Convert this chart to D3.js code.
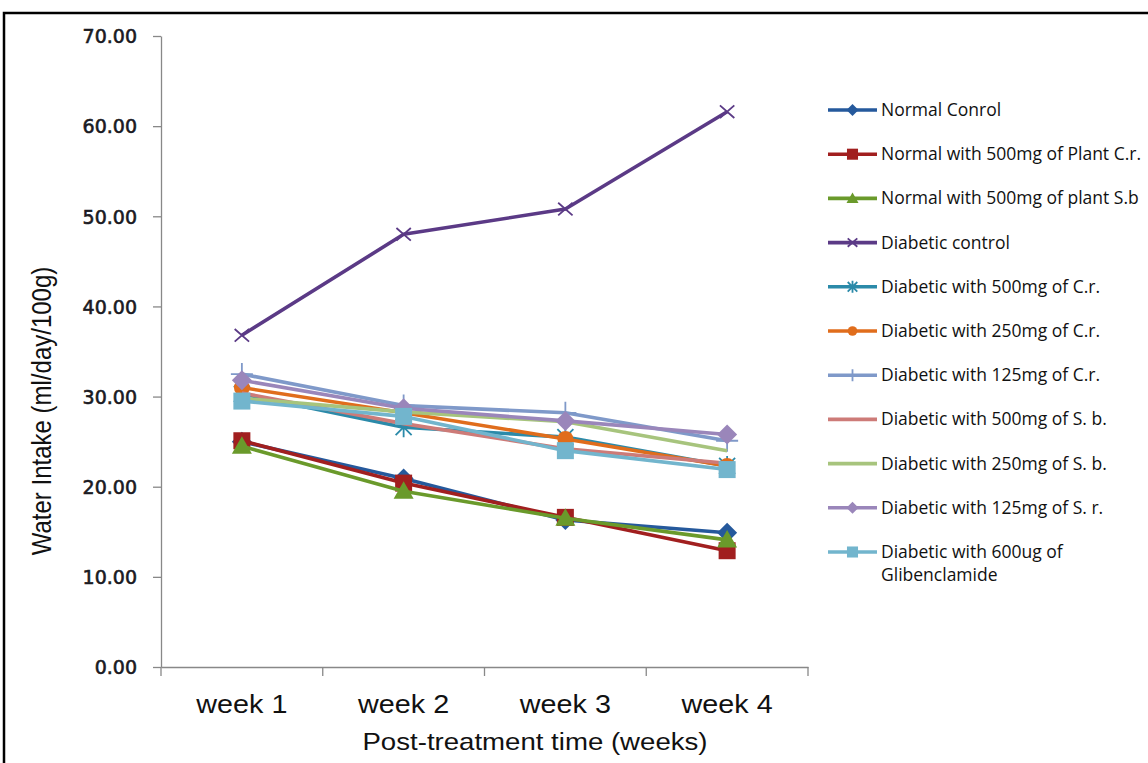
<!DOCTYPE html>
<html><head><meta charset="utf-8">
<script src="https://cdn.jsdelivr.net/npm/d3@7"></script>
<style>body{margin:0;background:#fff;}svg{display:block;}</style>
</head><body>
<script>
const weeks = ["week 1","week 2","week 3","week 4"];
const yTicks = [0,10,20,30,40,50,60,70];
const names = ["Normal Conrol","Normal with 500mg of Plant C.r.","Normal with 500mg of plant S.b","Diabetic control","Diabetic with 500mg of C.r.","Diabetic with 250mg of C.r.","Diabetic with 125mg of C.r.","Diabetic with 500mg of S. b.","Diabetic with 250mg of S. b.","Diabetic with 125mg of S. r.","Diabetic with 600ug of|Glibenclamide"];
const normalControl = [25.0, 20.9, 16.3, 14.9];
const normalCr500 = [25.1, 20.4, 16.6, 12.9];
const normalSb500 = [24.5, 19.5, 16.5, 14.1];
const diabeticControl = [36.8, 48.0, 50.8, 61.6];
const diabCr500 = [30.3, 26.6, 25.5, 22.3];
const diabCr250 = [31.0, 28.2, 25.3, 22.3];
const diabCr125 = [32.5, 29.0, 28.2, 25.1];
const diabSb500 = [30.4, 27.0, 24.2, 22.6];
const diabSb250 = [29.8, 28.3, 27.2, 24.0];
const diabSr125 = [31.8, 28.7, 27.3, 25.8];
const glibenclamide = [29.5, 27.8, 24.0, 21.9];
const seriesValues = [normalControl, normalCr500, normalSb500, diabeticControl, diabCr500, diabCr250, diabCr125, diabSb500, diabSb250, diabSr125, glibenclamide];
const colors = ["#25599c","#a11f1f","#6a9a2b","#5b3a86","#2b8aa9","#e06d1c","#7f99c9","#cd7b78","#a7c47d","#9a86ba","#72b5cd"];
const markers = ["diamond","square","triangle","x","asterisk","circle","plus","none","none","diamond","square"];

const W=1148,H=763;
const svg=d3.select("body").append("svg").attr("width",W).attr("height",H);
svg.append("rect").attr("x",4).attr("y",13).attr("width",W+10).attr("height",H+10).attr("fill","none").attr("stroke","#000").attr("stroke-width",2.5);

const x=d3.scaleBand().domain(weeks).range([161,808]);
const y=d3.scaleLinear().domain([0,70]).range([667,36]);

const gy=svg.append("g").attr("transform","translate(161,0)").call(d3.axisLeft(y).tickValues(yTicks).tickFormat(d3.format(".2f")).tickSize(8).tickSizeOuter(0));
gy.select(".domain").attr("stroke","#888").attr("stroke-width",1.3);
gy.selectAll(".tick line").attr("stroke","#888").attr("stroke-width",1.3);
gy.selectAll(".tick text").attr("x",-24).attr("dy","0.36em").attr("font-family","DejaVu Sans").attr("font-size",19).attr("fill","#1a1a22").attr("stroke","#1a1a22").attr("stroke-width",0.6);

const gx=svg.append("g").attr("transform","translate(0,667)").call(d3.axisBottom(x).tickSize(0));
gx.select(".domain").attr("stroke","#888").attr("stroke-width",1.3);
gx.selectAll(".tick text").attr("dy",0).attr("y",46).attr("x",0).attr("font-family","Liberation Sans").attr("font-size",25).attr("fill","#111")
  .attr("transform","scale(1.15,1)");
const bounds=[161].concat(weeks.map(w=>x(w)+x.bandwidth()));
svg.append("g").selectAll("line").data(bounds).join("line")
  .attr("x1",d=>d).attr("x2",d=>d).attr("y1",667).attr("y2",676).attr("stroke","#888").attr("stroke-width",1.3);

svg.append("text").attr("transform","translate(535,750) scale(1.15,1)").attr("text-anchor","middle").attr("font-family","Liberation Sans").attr("font-size",24).attr("fill","#111").text("Post-treatment time (weeks)");
svg.append("text").attr("transform","translate(51,411) rotate(-90) scale(1,1.15)").attr("text-anchor","middle").attr("font-family","Liberation Sans").attr("font-size",24).attr("fill","#111").text("Water Intake (ml/day/100g)");

function drawMarker(g,type,color,cx,cy,s){
  if(type==="diamond"){g.append("path").attr("d",`M${cx},${cy-s}L${cx+s},${cy}L${cx},${cy+s}L${cx-s},${cy}Z`).attr("fill",color);}
  else if(type==="square"){g.append("rect").attr("x",cx-s*0.85).attr("y",cy-s*0.85).attr("width",s*1.7).attr("height",s*1.7).attr("fill",color);}
  else if(type==="triangle"){g.append("path").attr("d",`M${cx},${cy-s}L${cx+s},${cy+s*0.75}L${cx-s},${cy+s*0.75}Z`).attr("fill",color);}
  else if(type==="circle"){g.append("circle").attr("cx",cx).attr("cy",cy).attr("r",s*0.8).attr("fill",color);}
  else if(type==="x"){g.append("path").attr("d",`M${cx-s*0.8},${cy-s*0.7}L${cx+s*0.8},${cy+s*0.7}M${cx-s*0.8},${cy+s*0.7}L${cx+s*0.8},${cy-s*0.7}`).attr("stroke",color).attr("stroke-width",1.8);}
  else if(type==="asterisk"){g.append("path").attr("d",`M${cx-s*0.8},${cy-s*0.8}L${cx+s*0.8},${cy+s*0.8}M${cx-s*0.8},${cy+s*0.8}L${cx+s*0.8},${cy-s*0.8}M${cx},${cy-s}L${cx},${cy+s}`).attr("stroke",color).attr("stroke-width",1.8);}
  else if(type==="plus"){g.append("path").attr("d",`M${cx-s},${cy}L${cx+s},${cy}M${cx},${cy-s}L${cx},${cy+s}`).attr("stroke",color).attr("stroke-width",1.8);}
}

const line=d3.line().x((d,i)=>x(weeks[i])+x.bandwidth()/2).y(d=>y(d));
const plot=svg.append("g");
seriesValues.forEach((vals,k)=>{
  const g=plot.append("g");
  g.append("path").attr("d",line(vals)).attr("fill","none").attr("stroke",colors[k]).attr("stroke-width",3.6).attr("stroke-linejoin","round");
  vals.forEach((v,i)=>drawMarker(g,markers[k],colors[k],x(weeks[i])+x.bandwidth()/2,y(v),markers[k]==="plus"?11:(markers[k]==="x"?9:10)));
});

const leg=svg.append("g");
names.forEach((n,k)=>{
  const ly=110+k*44.2;
  const g=leg.append("g");
  g.append("line").attr("x1",828).attr("x2",877).attr("y1",ly).attr("y2",ly).attr("stroke",colors[k]).attr("stroke-width",3.6);
  drawMarker(g,markers[k],colors[k],852.5,ly,markers[k]==="square"?6.5:6);
  const t=g.append("text").attr("x",881).attr("y",ly+6).attr("font-family","Open Sans").attr("font-size",17.5).attr("letter-spacing",0).attr("fill","#111");
  n.split("|").forEach((p,j)=>t.append("tspan").attr("x",881).attr("dy",j?23:0).text(p));
});
</script>
</body></html>
